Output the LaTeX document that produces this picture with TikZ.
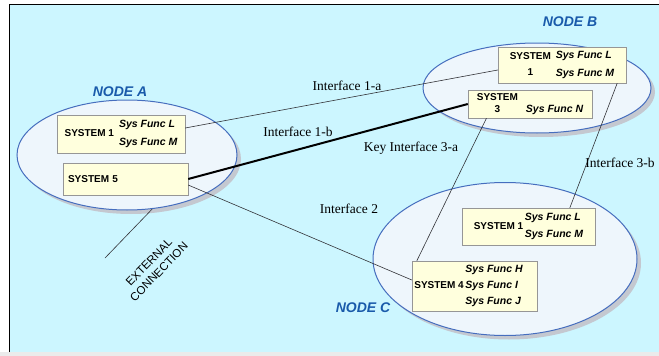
\documentclass[tikz,border=0pt]{standalone}
\usepackage{fontspec}
\setmainfont{Liberation Serif}
\setsansfont{Liberation Sans}
\usetikzlibrary{shapes.geometric,calc,shadows}
\definecolor{deskbg}{RGB}{204,246,255}
\definecolor{sitefill}{RGB}{238,246,252}
\definecolor{siteline}{RGB}{70,110,190}
\definecolor{sitetext}{RGB}{25,90,170}
\definecolor{sysfill}{RGB}{255,255,221}
\definecolor{sysline}{RGB}{150,150,150}
\definecolor{shadowgray}{RGB}{196,200,208}
\definecolor{linkline}{RGB}{50,50,55}
\newcommand{\sysfn}[1]{{\itshape\fontsize{10.5}{12}\selectfont #1}}

\begin{document}
\begin{tikzpicture}[x=1pt, y=-1pt,
    site/.style={ellipse, draw=siteline, line width=1pt, fill=sitefill, inner sep=0pt,
      drop shadow={shadow xshift=4pt, shadow yshift=-4pt, fill=shadowgray, opacity=1}},
    sitename/.style={font=\sffamily\bfseries\itshape\fontsize{14}{16}\selectfont, text=sitetext},
    sysbox/.style={rectangle, draw=sysline, fill=sysfill, inner sep=2pt, align=center,
      font=\sffamily\bfseries\fontsize{10}{12}\selectfont},
    link/.style={draw=linkline, semithick},
    linkname/.style={font=\fontsize{13.5}{15}\selectfont}
]
\useasboundingbox (0,0) rectangle (659,356);

% Background
\fill[deskbg] (9,4) rectangle (659,352);
\fill[black!8] (0,352) rectangle (659,356);
\draw[black, line width=1pt] (9,352) -- (9,4) -- (659,4);

% Sites
\node[site, minimum width=220pt, minimum height=110pt] (nodeA) at (127,155) {};
\node[site, minimum width=228pt, minimum height=90pt] (nodeB) at (537,88) {};
\node[site, minimum width=264pt, minimum height=153pt] (nodeC) at (505,259) {};

\node[sitename] (nameA) at (120,92) {NODE A};
\node[sitename] (nameB) at (570,22) {NODE B};
\node[sitename] (nameC) at (363,308) {NODE C};

% Systems
\node[sysbox, minimum width=128pt, minimum height=38pt] (aSysOne) at (121,134)
  {SYSTEM 1\enspace\begin{tabular}{@{}l@{}}\sysfn{Sys Func L}\\[6pt]\sysfn{Sys Func M}\end{tabular}};
\node[sysbox, minimum width=125pt, minimum height=32pt, text width=115pt, align=left] (aSysFive) at (125.5,179)
  {\raisebox{-4pt}{SYSTEM 5}};
\node[sysbox, minimum width=128pt, minimum height=36pt] (bSysOne) at (562,65)
  {\begin{tabular}{@{}c@{}}SYSTEM\\[4pt]1\end{tabular}\enspace\begin{tabular}{@{}l@{}}\sysfn{Sys Func L}\\[6pt]\sysfn{Sys Func M}\end{tabular}};
\node[sysbox, minimum width=124pt, minimum height=28pt] (bSysThree) at (530,104)
  {\begin{tabular}{@{}c@{\hspace{8pt}}l@{}}SYSTEM & \\ 3 & \sysfn{Sys Func N}\end{tabular}};
\node[sysbox, minimum width=133pt, minimum height=37pt] (cSysOne) at (528.5,226.5)
  {SYSTEM 1\,\begin{tabular}{@{}l@{}}\sysfn{Sys Func L}\\[5pt]\sysfn{Sys Func M}\end{tabular}};
\node[sysbox, minimum width=125pt, minimum height=50pt] (cSysFour) at (474.5,286)
  {\hspace*{-12pt}SYSTEM 4\,\begin{tabular}{@{}l@{}}\sysfn{Sys Func H}\\[4pt]\sysfn{Sys Func I}\\[4pt]\sysfn{Sys Func J}\end{tabular}};

% Interfaces
\draw[link] ([yshift=6pt]aSysOne.east) -- ([yshift=-5pt]bSysOne.west);
\draw[black, line width=2pt] (aSysFive.east) -- (bSysThree.west);
\draw[link] ([yshift=-6pt]aSysFive.east) -- ([yshift=6pt]cSysFour.west);
\draw[link] ($(bSysThree.south west)!0.15!(bSysThree.south east)$) -- ($(cSysFour.north west)!0.04!(cSysFour.north east)$);
\draw[link] ($(bSysOne.south west)!0.93!(bSysOne.south east)$) -- ($(cSysOne.north west)!0.81!(cSysOne.north east)$);

\coordinate (extEnd) at (105,258);
\draw[link] (nodeA.-65) -- (extEnd);

\node[linkname] (lbl1a) at (347,86) {Interface 1-a};
\node[linkname] (lbl1b) at (298,132) {Interface 1-b};
\node[linkname] (lbl2) at (349,209) {Interface 2};
\node[linkname] (lbl3a) at (411,148) {Key Interface 3-a};
\node[linkname] (lbl3b) at (620,163) {Interface 3-b};
\node[font=\sffamily\fontsize{11.5}{14}\selectfont, rotate=46, align=center] (extName) at (154,267) {EXTERNAL\\CONNECTION};

\end{tikzpicture}
\end{document}
